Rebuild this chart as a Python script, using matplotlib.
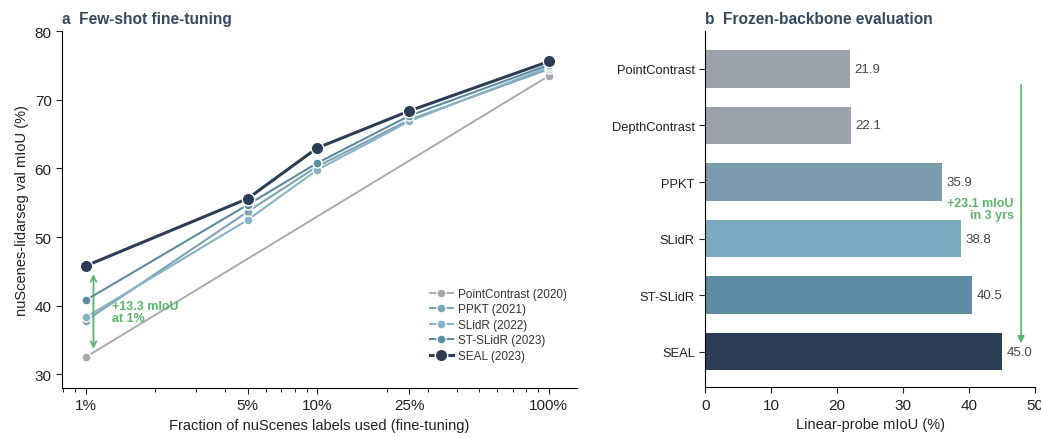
import numpy as np
import matplotlib.pyplot as plt
from matplotlib.ticker import FixedLocator, FixedFormatter, LogLocator, NullFormatter

plt.rcParams['font.family'] = ['Liberation Sans', 'DejaVu Sans']

# panel a: few-shot fine-tuning
fractions = [1, 5, 10, 25, 100]
pc_frac = [1, 100]
pc_vals = [32.5, 73.5]
ppkt_vals = [37.8, 53.7, 60.3, 67.1, 74.5]
slidr_vals = [38.3, 52.5, 59.8, 66.9, 74.8]
stslidr_vals = [40.8, 54.7, 60.8, 67.7, 75.1]
seal_vals = [45.8, 55.6, 63.0, 68.4, 75.6]

# panel b: frozen backbone
methods = ["PointContrast", "DepthContrast", "PPKT", "SLidR", "ST-SLidR", "SEAL"]
probe_vals = [21.9, 22.1, 35.9, 38.8, 40.5, 45.0]
bar_colors = ["#9aa1aa", "#9aa1aa", "#7a9cad", "#7aa9c0", "#5d8ba2", "#2c3e56"]

title_col = "#34495e"
green = "#5cb56b"

fig = plt.figure(figsize=(10.41, 4.39), dpi=100)
ax1 = fig.add_axes([0.0596, 0.1139, 0.4944, 0.8125])
ax2 = fig.add_axes([0.6775, 0.1155, 0.3167, 0.8116])

# ---- left panel
ax1.plot(pc_frac, pc_vals, color="#a8acb1", lw=1.4, marker="o", ms=6.5,
         mfc="#a3a8ae", mec="white", mew=1, label="PointContrast (2020)", zorder=2)
ax1.plot(fractions, ppkt_vals, color="#7ea3b3", lw=1.5, marker="o", ms=6.5,
         mfc="#7ea3b3", mec="white", mew=1, label="PPKT (2021)", zorder=3)
ax1.plot(fractions, slidr_vals, color="#86b3c7", lw=1.5, marker="o", ms=6.5,
         mfc="#86b3c7", mec="white", mew=1, label="SLidR (2022)", zorder=3)
ax1.plot(fractions, stslidr_vals, color="#5b8ca3", lw=1.5, marker="o", ms=6.5,
         mfc="#5b8ca3", mec="white", mew=1, label="ST-SLidR (2023)", zorder=4)
ax1.plot(fractions, seal_vals, color="#2c3e56", lw=2.2, marker="o", ms=9,
         mfc="#2c3e56", mec="white", mew=1, label="SEAL (2023)", zorder=5)

ax1.set_xscale("log")
ax1.set_xlim(0.79, 132)
ax1.set_ylim(28, 80)
ax1.xaxis.set_major_locator(FixedLocator(fractions))
ax1.xaxis.set_major_formatter(FixedFormatter([f"{f}%" for f in fractions]))
ax1.xaxis.set_minor_locator(LogLocator(base=10, subs=np.arange(2, 10)))
ax1.xaxis.set_minor_formatter(NullFormatter())
ax1.set_yticks([30, 40, 50, 60, 70, 80])
ax1.tick_params(axis="both", labelsize=11, colors="#222222", length=4)
ax1.tick_params(axis="x", which="minor", length=3)
ax1.spines["top"].set_visible(False)
ax1.spines["right"].set_visible(False)
ax1.set_xlabel("Fraction of nuScenes labels used (fine-tuning)", fontsize=10.5, color="#222222")
ax1.set_ylabel("nuScenes-lidarseg val mIoU (%)", fontsize=10.5, color="#222222")
ax1.set_title("a  Few-shot fine-tuning", loc="left", fontsize=11.2, fontweight="bold",
              color=title_col, x=0.0, pad=6)

ax1.annotate("", xy=(1.08, 33.3), xytext=(1.08, 45.0),
             arrowprops=dict(arrowstyle="<->", color=green, lw=1.3))
ax1.text(1.295, 39.1, "+13.3 mIoU\nat 1%", color=green, fontsize=9, fontweight="bold",
         va="center", ha="left", linespacing=1.0)

ax1.legend(loc="lower right", bbox_to_anchor=(0.99, 0.06), borderaxespad=0, frameon=False,
           fontsize=8.5, handlelength=2.0, labelspacing=0.3, handletextpad=0.4,
           labelcolor="#333333")

# ---- right panel
y = np.arange(len(methods))
ax2.barh(y, probe_vals, height=0.666, color=bar_colors)
for yi, v in zip(y, probe_vals):
    ax2.text(v + 0.7, yi, f"{v:.1f}", va="center", ha="left", fontsize=9.5, color="#444444")
ax2.set_yticks(y)
ax2.set_yticklabels(methods)
ax2.set_ylim(5.63, -0.67)
ax2.set_xlim(0, 50)
ax2.set_xticks([0, 10, 20, 30, 40, 50])
ax2.tick_params(axis="x", labelsize=11, colors="#222222", length=4)
ax2.tick_params(axis="y", labelsize=9.3, colors="#222222", length=4)
ax2.spines["top"].set_visible(False)
ax2.spines["right"].set_visible(False)
ax2.set_xlabel("Linear-probe mIoU (%)", fontsize=10.5, color="#222222")
ax2.set_title("b  Frozen-backbone evaluation", loc="left", fontsize=11.2, fontweight="bold",
              color=title_col, x=0.0, pad=6)

ax2.annotate("", xy=(47.9, 4.9), xytext=(47.9, 0.23),
             arrowprops=dict(arrowstyle="-|>", color=green, lw=1.2, mutation_scale=10))
ax2.text(46.8, 2.47, "+23.1 mIoU\nin 3 yrs", color=green, fontsize=9, fontweight="bold",
         va="center", ha="right", linespacing=1.0)

fig.savefig("out.png", dpi=100)
